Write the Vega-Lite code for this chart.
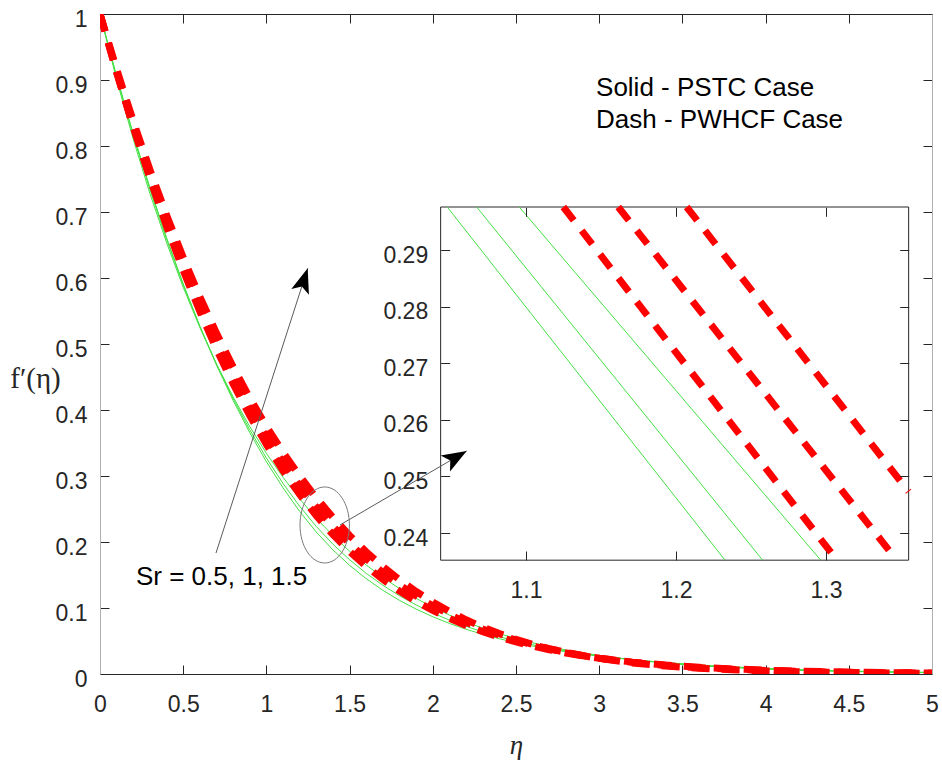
{
"$schema":"https://vega.github.io/schema/vega-lite/v6.json",
"width":832,"height":660,
"autosize":{"type":"none"},
"padding":{"left":100,"top":14,"right":10,"bottom":86},
"background":"white",
"config":{"view":{"stroke":null},"axis":{"grid":false,"labelFont":"Liberation Sans","labelFontSize":23,"labelColor":"#262626","tickColor":"#262626","domainColor":"#262626","labelFlush":false,"labelOverlap":false,"labelBound":false,"format":"~g"}},
"datasets":{
"main":[
{"case":"PSTC","Sr":0.5,"eta":0,"f":1},{"case":"PSTC","Sr":0.5,"eta":0.1,"f":0.9062},{"case":"PSTC","Sr":0.5,"eta":0.2,"f":0.8185},{"case":"PSTC","Sr":0.5,"eta":0.3,"f":0.7369},{"case":"PSTC","Sr":0.5,"eta":0.4,"f":0.6611},{"case":"PSTC","Sr":0.5,"eta":0.5,"f":0.5912},{"case":"PSTC","Sr":0.5,"eta":0.6,"f":0.527},{"case":"PSTC","Sr":0.5,"eta":0.7,"f":0.4681},{"case":"PSTC","Sr":0.5,"eta":0.8,"f":0.4145},{"case":"PSTC","Sr":0.5,"eta":0.9,"f":0.3657},{"case":"PSTC","Sr":0.5,"eta":1,"f":0.3217},{"case":"PSTC","Sr":0.5,"eta":1.1,"f":0.282},{"case":"PSTC","Sr":0.5,"eta":1.2,"f":0.2463},{"case":"PSTC","Sr":0.5,"eta":1.3,"f":0.215},{"case":"PSTC","Sr":0.5,"eta":1.4,"f":0.188},{"case":"PSTC","Sr":0.5,"eta":1.5,"f":0.1646},{"case":"PSTC","Sr":0.5,"eta":1.6,"f":0.1444},{"case":"PSTC","Sr":0.5,"eta":1.7,"f":0.1268},{"case":"PSTC","Sr":0.5,"eta":1.8,"f":0.1115},{"case":"PSTC","Sr":0.5,"eta":1.9,"f":0.0983},{"case":"PSTC","Sr":0.5,"eta":2,"f":0.0867},{"case":"PSTC","Sr":0.5,"eta":2.1,"f":0.0766},{"case":"PSTC","Sr":0.5,"eta":2.2,"f":0.0678},{"case":"PSTC","Sr":0.5,"eta":2.3,"f":0.0601},{"case":"PSTC","Sr":0.5,"eta":2.4,"f":0.0534},{"case":"PSTC","Sr":0.5,"eta":2.5,"f":0.0475},{"case":"PSTC","Sr":0.5,"eta":2.6,"f":0.0423},{"case":"PSTC","Sr":0.5,"eta":2.7,"f":0.0377},{"case":"PSTC","Sr":0.5,"eta":2.8,"f":0.0337},{"case":"PSTC","Sr":0.5,"eta":2.9,"f":0.0301},{"case":"PSTC","Sr":0.5,"eta":3,"f":0.027},{"case":"PSTC","Sr":0.5,"eta":3.2,"f":0.0217},{"case":"PSTC","Sr":0.5,"eta":3.4,"f":0.0173},{"case":"PSTC","Sr":0.5,"eta":3.6,"f":0.0137},{"case":"PSTC","Sr":0.5,"eta":3.8,"f":0.0108},{"case":"PSTC","Sr":0.5,"eta":4,"f":0.0085},{"case":"PSTC","Sr":0.5,"eta":4.2,"f":0.0067},{"case":"PSTC","Sr":0.5,"eta":4.4,"f":0.0052},{"case":"PSTC","Sr":0.5,"eta":4.6,"f":0.004},{"case":"PSTC","Sr":0.5,"eta":4.8,"f":0.0031},{"case":"PSTC","Sr":0.5,"eta":5,"f":0.0024},
{"case":"PSTC","Sr":1,"eta":0,"f":1},{"case":"PSTC","Sr":1,"eta":0.1,"f":0.9042},{"case":"PSTC","Sr":1,"eta":0.2,"f":0.8156},{"case":"PSTC","Sr":1,"eta":0.3,"f":0.7338},{"case":"PSTC","Sr":1,"eta":0.4,"f":0.6587},{"case":"PSTC","Sr":1,"eta":0.5,"f":0.5898},{"case":"PSTC","Sr":1,"eta":0.6,"f":0.5268},{"case":"PSTC","Sr":1,"eta":0.7,"f":0.4694},{"case":"PSTC","Sr":1,"eta":0.8,"f":0.4172},{"case":"PSTC","Sr":1,"eta":0.9,"f":0.37},{"case":"PSTC","Sr":1,"eta":1,"f":0.3272},{"case":"PSTC","Sr":1,"eta":1.1,"f":0.2887},{"case":"PSTC","Sr":1,"eta":1.2,"f":0.2541},{"case":"PSTC","Sr":1,"eta":1.3,"f":0.2235},{"case":"PSTC","Sr":1,"eta":1.4,"f":0.1966},{"case":"PSTC","Sr":1,"eta":1.5,"f":0.1731},{"case":"PSTC","Sr":1,"eta":1.6,"f":0.1525},{"case":"PSTC","Sr":1,"eta":1.7,"f":0.1344},{"case":"PSTC","Sr":1,"eta":1.8,"f":0.1186},{"case":"PSTC","Sr":1,"eta":1.9,"f":0.1046},{"case":"PSTC","Sr":1,"eta":2,"f":0.0924},{"case":"PSTC","Sr":1,"eta":2.1,"f":0.0816},{"case":"PSTC","Sr":1,"eta":2.2,"f":0.0722},{"case":"PSTC","Sr":1,"eta":2.3,"f":0.0638},{"case":"PSTC","Sr":1,"eta":2.4,"f":0.0565},{"case":"PSTC","Sr":1,"eta":2.5,"f":0.05},{"case":"PSTC","Sr":1,"eta":2.6,"f":0.0443},{"case":"PSTC","Sr":1,"eta":2.7,"f":0.0393},{"case":"PSTC","Sr":1,"eta":2.8,"f":0.0349},{"case":"PSTC","Sr":1,"eta":2.9,"f":0.031},{"case":"PSTC","Sr":1,"eta":3,"f":0.0275},{"case":"PSTC","Sr":1,"eta":3.2,"f":0.0217},{"case":"PSTC","Sr":1,"eta":3.4,"f":0.017},{"case":"PSTC","Sr":1,"eta":3.6,"f":0.0133},{"case":"PSTC","Sr":1,"eta":3.8,"f":0.0104},{"case":"PSTC","Sr":1,"eta":4,"f":0.0081},{"case":"PSTC","Sr":1,"eta":4.2,"f":0.0063},{"case":"PSTC","Sr":1,"eta":4.4,"f":0.0048},{"case":"PSTC","Sr":1,"eta":4.6,"f":0.0037},{"case":"PSTC","Sr":1,"eta":4.8,"f":0.0029},{"case":"PSTC","Sr":1,"eta":5,"f":0.0022},
{"case":"PSTC","Sr":1.5,"eta":0,"f":1},{"case":"PSTC","Sr":1.5,"eta":0.1,"f":0.9006},{"case":"PSTC","Sr":1.5,"eta":0.2,"f":0.8102},{"case":"PSTC","Sr":1.5,"eta":0.3,"f":0.728},{"case":"PSTC","Sr":1.5,"eta":0.4,"f":0.6536},{"case":"PSTC","Sr":1.5,"eta":0.5,"f":0.5861},{"case":"PSTC","Sr":1.5,"eta":0.6,"f":0.525},{"case":"PSTC","Sr":1.5,"eta":0.7,"f":0.4698},{"case":"PSTC","Sr":1.5,"eta":0.8,"f":0.4199},{"case":"PSTC","Sr":1.5,"eta":0.9,"f":0.3749},{"case":"PSTC","Sr":1.5,"eta":1,"f":0.3344},{"case":"PSTC","Sr":1.5,"eta":1.1,"f":0.298},{"case":"PSTC","Sr":1.5,"eta":1.2,"f":0.2653},{"case":"PSTC","Sr":1.5,"eta":1.3,"f":0.2359},{"case":"PSTC","Sr":1.5,"eta":1.4,"f":0.2096},{"case":"PSTC","Sr":1.5,"eta":1.5,"f":0.186},{"case":"PSTC","Sr":1.5,"eta":1.6,"f":0.165},{"case":"PSTC","Sr":1.5,"eta":1.7,"f":0.1462},{"case":"PSTC","Sr":1.5,"eta":1.8,"f":0.1294},{"case":"PSTC","Sr":1.5,"eta":1.9,"f":0.1145},{"case":"PSTC","Sr":1.5,"eta":2,"f":0.1011},{"case":"PSTC","Sr":1.5,"eta":2.1,"f":0.0893},{"case":"PSTC","Sr":1.5,"eta":2.2,"f":0.0788},{"case":"PSTC","Sr":1.5,"eta":2.3,"f":0.0694},{"case":"PSTC","Sr":1.5,"eta":2.4,"f":0.0611},{"case":"PSTC","Sr":1.5,"eta":2.5,"f":0.0538},{"case":"PSTC","Sr":1.5,"eta":2.6,"f":0.0473},{"case":"PSTC","Sr":1.5,"eta":2.7,"f":0.0415},{"case":"PSTC","Sr":1.5,"eta":2.8,"f":0.0364},{"case":"PSTC","Sr":1.5,"eta":2.9,"f":0.032},{"case":"PSTC","Sr":1.5,"eta":3,"f":0.028},{"case":"PSTC","Sr":1.5,"eta":3.2,"f":0.0214},{"case":"PSTC","Sr":1.5,"eta":3.4,"f":0.0164},{"case":"PSTC","Sr":1.5,"eta":3.6,"f":0.0126},{"case":"PSTC","Sr":1.5,"eta":3.8,"f":0.0096},{"case":"PSTC","Sr":1.5,"eta":4,"f":0.0074},{"case":"PSTC","Sr":1.5,"eta":4.2,"f":0.0056},{"case":"PSTC","Sr":1.5,"eta":4.4,"f":0.0043},{"case":"PSTC","Sr":1.5,"eta":4.6,"f":0.0033},{"case":"PSTC","Sr":1.5,"eta":4.8,"f":0.0025},{"case":"PSTC","Sr":1.5,"eta":5,"f":0.0019},
{"case":"PWHCF","Sr":0.5,"eta":0,"f":1},{"case":"PWHCF","Sr":0.5,"eta":0.1,"f":0.9115},{"case":"PWHCF","Sr":0.5,"eta":0.2,"f":0.8285},{"case":"PWHCF","Sr":0.5,"eta":0.3,"f":0.7508},{"case":"PWHCF","Sr":0.5,"eta":0.4,"f":0.6785},{"case":"PWHCF","Sr":0.5,"eta":0.5,"f":0.6114},{"case":"PWHCF","Sr":0.5,"eta":0.6,"f":0.5493},{"case":"PWHCF","Sr":0.5,"eta":0.7,"f":0.4921},{"case":"PWHCF","Sr":0.5,"eta":0.8,"f":0.4396},{"case":"PWHCF","Sr":0.5,"eta":0.9,"f":0.3916},{"case":"PWHCF","Sr":0.5,"eta":1,"f":0.3478},{"case":"PWHCF","Sr":0.5,"eta":1.1,"f":0.308},{"case":"PWHCF","Sr":0.5,"eta":1.2,"f":0.272},{"case":"PWHCF","Sr":0.5,"eta":1.3,"f":0.2397},{"case":"PWHCF","Sr":0.5,"eta":1.4,"f":0.2111},{"case":"PWHCF","Sr":0.5,"eta":1.5,"f":0.1856},{"case":"PWHCF","Sr":0.5,"eta":1.6,"f":0.1631},{"case":"PWHCF","Sr":0.5,"eta":1.7,"f":0.1432},{"case":"PWHCF","Sr":0.5,"eta":1.8,"f":0.1256},{"case":"PWHCF","Sr":0.5,"eta":1.9,"f":0.11},{"case":"PWHCF","Sr":0.5,"eta":2,"f":0.0963},{"case":"PWHCF","Sr":0.5,"eta":2.1,"f":0.0842},{"case":"PWHCF","Sr":0.5,"eta":2.2,"f":0.0735},{"case":"PWHCF","Sr":0.5,"eta":2.3,"f":0.0641},{"case":"PWHCF","Sr":0.5,"eta":2.4,"f":0.0559},{"case":"PWHCF","Sr":0.5,"eta":2.5,"f":0.0487},{"case":"PWHCF","Sr":0.5,"eta":2.6,"f":0.0423},{"case":"PWHCF","Sr":0.5,"eta":2.7,"f":0.0368},{"case":"PWHCF","Sr":0.5,"eta":2.8,"f":0.0319},{"case":"PWHCF","Sr":0.5,"eta":2.9,"f":0.0277},{"case":"PWHCF","Sr":0.5,"eta":3,"f":0.024},{"case":"PWHCF","Sr":0.5,"eta":3.2,"f":0.018},{"case":"PWHCF","Sr":0.5,"eta":3.4,"f":0.0135},{"case":"PWHCF","Sr":0.5,"eta":3.6,"f":0.0102},{"case":"PWHCF","Sr":0.5,"eta":3.8,"f":0.0077},{"case":"PWHCF","Sr":0.5,"eta":4,"f":0.0058},{"case":"PWHCF","Sr":0.5,"eta":4.2,"f":0.0044},{"case":"PWHCF","Sr":0.5,"eta":4.4,"f":0.0033},{"case":"PWHCF","Sr":0.5,"eta":4.6,"f":0.0025},{"case":"PWHCF","Sr":0.5,"eta":4.8,"f":0.0019},{"case":"PWHCF","Sr":0.5,"eta":5,"f":0.0015},
{"case":"PWHCF","Sr":1,"eta":0,"f":1},{"case":"PWHCF","Sr":1,"eta":0.1,"f":0.9118},{"case":"PWHCF","Sr":1,"eta":0.2,"f":0.8295},{"case":"PWHCF","Sr":1,"eta":0.3,"f":0.753},{"case":"PWHCF","Sr":1,"eta":0.4,"f":0.682},{"case":"PWHCF","Sr":1,"eta":0.5,"f":0.6163},{"case":"PWHCF","Sr":1,"eta":0.6,"f":0.5557},{"case":"PWHCF","Sr":1,"eta":0.7,"f":0.4999},{"case":"PWHCF","Sr":1,"eta":0.8,"f":0.4487},{"case":"PWHCF","Sr":1,"eta":0.9,"f":0.4019},{"case":"PWHCF","Sr":1,"eta":1,"f":0.3591},{"case":"PWHCF","Sr":1,"eta":1.1,"f":0.3202},{"case":"PWHCF","Sr":1,"eta":1.2,"f":0.2848},{"case":"PWHCF","Sr":1,"eta":1.3,"f":0.2528},{"case":"PWHCF","Sr":1,"eta":1.4,"f":0.2239},{"case":"PWHCF","Sr":1,"eta":1.5,"f":0.1979},{"case":"PWHCF","Sr":1,"eta":1.6,"f":0.1745},{"case":"PWHCF","Sr":1,"eta":1.7,"f":0.1536},{"case":"PWHCF","Sr":1,"eta":1.8,"f":0.1349},{"case":"PWHCF","Sr":1,"eta":1.9,"f":0.1182},{"case":"PWHCF","Sr":1,"eta":2,"f":0.1034},{"case":"PWHCF","Sr":1,"eta":2.1,"f":0.0902},{"case":"PWHCF","Sr":1,"eta":2.2,"f":0.0785},{"case":"PWHCF","Sr":1,"eta":2.3,"f":0.0682},{"case":"PWHCF","Sr":1,"eta":2.4,"f":0.0591},{"case":"PWHCF","Sr":1,"eta":2.5,"f":0.0512},{"case":"PWHCF","Sr":1,"eta":2.6,"f":0.0442},{"case":"PWHCF","Sr":1,"eta":2.7,"f":0.038},{"case":"PWHCF","Sr":1,"eta":2.8,"f":0.0327},{"case":"PWHCF","Sr":1,"eta":2.9,"f":0.028},{"case":"PWHCF","Sr":1,"eta":3,"f":0.024},{"case":"PWHCF","Sr":1,"eta":3.2,"f":0.0176},{"case":"PWHCF","Sr":1,"eta":3.4,"f":0.0129},{"case":"PWHCF","Sr":1,"eta":3.6,"f":0.0096},{"case":"PWHCF","Sr":1,"eta":3.8,"f":0.0071},{"case":"PWHCF","Sr":1,"eta":4,"f":0.0053},{"case":"PWHCF","Sr":1,"eta":4.2,"f":0.004},{"case":"PWHCF","Sr":1,"eta":4.4,"f":0.003},{"case":"PWHCF","Sr":1,"eta":4.6,"f":0.0022},{"case":"PWHCF","Sr":1,"eta":4.8,"f":0.0017},{"case":"PWHCF","Sr":1,"eta":5,"f":0.0013},
{"case":"PWHCF","Sr":1.5,"eta":0,"f":1},{"case":"PWHCF","Sr":1.5,"eta":0.1,"f":0.9164},{"case":"PWHCF","Sr":1.5,"eta":0.2,"f":0.8378},{"case":"PWHCF","Sr":1.5,"eta":0.3,"f":0.7642},{"case":"PWHCF","Sr":1.5,"eta":0.4,"f":0.6953},{"case":"PWHCF","Sr":1.5,"eta":0.5,"f":0.6312},{"case":"PWHCF","Sr":1.5,"eta":0.6,"f":0.5716},{"case":"PWHCF","Sr":1.5,"eta":0.7,"f":0.5164},{"case":"PWHCF","Sr":1.5,"eta":0.8,"f":0.4654},{"case":"PWHCF","Sr":1.5,"eta":0.9,"f":0.4185},{"case":"PWHCF","Sr":1.5,"eta":1,"f":0.3754},{"case":"PWHCF","Sr":1.5,"eta":1.1,"f":0.336},{"case":"PWHCF","Sr":1.5,"eta":1.2,"f":0.3},{"case":"PWHCF","Sr":1.5,"eta":1.3,"f":0.2671},{"case":"PWHCF","Sr":1.5,"eta":1.4,"f":0.2371},{"case":"PWHCF","Sr":1.5,"eta":1.5,"f":0.2099},{"case":"PWHCF","Sr":1.5,"eta":1.6,"f":0.1852},{"case":"PWHCF","Sr":1.5,"eta":1.7,"f":0.1629},{"case":"PWHCF","Sr":1.5,"eta":1.8,"f":0.1429},{"case":"PWHCF","Sr":1.5,"eta":1.9,"f":0.125},{"case":"PWHCF","Sr":1.5,"eta":2,"f":0.109},{"case":"PWHCF","Sr":1.5,"eta":2.1,"f":0.0948},{"case":"PWHCF","Sr":1.5,"eta":2.2,"f":0.0821},{"case":"PWHCF","Sr":1.5,"eta":2.3,"f":0.071},{"case":"PWHCF","Sr":1.5,"eta":2.4,"f":0.0612},{"case":"PWHCF","Sr":1.5,"eta":2.5,"f":0.0525},{"case":"PWHCF","Sr":1.5,"eta":2.6,"f":0.045},{"case":"PWHCF","Sr":1.5,"eta":2.7,"f":0.0384},{"case":"PWHCF","Sr":1.5,"eta":2.8,"f":0.0327},{"case":"PWHCF","Sr":1.5,"eta":2.9,"f":0.0278},{"case":"PWHCF","Sr":1.5,"eta":3,"f":0.0235},{"case":"PWHCF","Sr":1.5,"eta":3.2,"f":0.0168},{"case":"PWHCF","Sr":1.5,"eta":3.4,"f":0.0121},{"case":"PWHCF","Sr":1.5,"eta":3.6,"f":0.0088},{"case":"PWHCF","Sr":1.5,"eta":3.8,"f":0.0064},{"case":"PWHCF","Sr":1.5,"eta":4,"f":0.0047},{"case":"PWHCF","Sr":1.5,"eta":4.2,"f":0.0035},{"case":"PWHCF","Sr":1.5,"eta":4.4,"f":0.0026},{"case":"PWHCF","Sr":1.5,"eta":4.6,"f":0.002},{"case":"PWHCF","Sr":1.5,"eta":4.8,"f":0.0015},{"case":"PWHCF","Sr":1.5,"eta":5,"f":0.0011}
],
"inset":[
{"case":"PSTC","Sr":0.5,"eta":1.0475,"f":0.2976},{"case":"PSTC","Sr":0.5,"eta":1.2327,"f":0.2352},
{"case":"PSTC","Sr":1,"eta":1.0671,"f":0.2976},{"case":"PSTC","Sr":1,"eta":1.2578,"f":0.2352},
{"case":"PSTC","Sr":1.5,"eta":1.0955,"f":0.2976},{"case":"PSTC","Sr":1.5,"eta":1.2965,"f":0.2352},
{"case":"PWHCF","Sr":0.5,"eta":1.1249,"f":0.2976},{"case":"PWHCF","Sr":0.5,"eta":1.3073,"f":0.2352},
{"case":"PWHCF","Sr":1,"eta":1.1615,"f":0.2976},{"case":"PWHCF","Sr":1,"eta":1.3472,"f":0.2352},
{"case":"PWHCF","Sr":1.5,"eta":1.2071,"f":0.2976},{"case":"PWHCF","Sr":1.5,"eta":1.3551,"f":0.2473}
]
},
"layer":[
{
"layer":[
{"data":{"name":"main"},"transform":[{"filter":"datum.case === 'PSTC'"}],
"mark":{"type":"line","clip":true,"color":"#44e044","strokeWidth":1},
"encoding":{
"x":{"field":"eta","type":"quantitative","scale":{"domain":[0,5],"nice":false,"zero":false},
"axis":{"orient":"bottom","values":[0,0.5,1,1.5,2,2.5,3,3.5,4,4.5,5],"tickSize":-9,"labelPadding":28,"title":"η","titleFont":"Liberation Serif","titleFontStyle":"italic","titleFontSize":27,"titleFontWeight":"normal","titleColor":"#262626","titleX":416,"titleY":71,"titleAlign":"center","titleBaseline":"middle"}},
"y":{"field":"f","type":"quantitative","scale":{"domain":[0,1],"nice":false},
"axis":{"orient":"left","values":[0,0.1,0.2,0.3,0.4,0.5,0.6,0.7,0.8,0.9,1],"tickSize":-9,"labelPadding":22,"labelOffset":5,"domainColor":"#b0b0b0","title":"f′(η)","titleAngle":0,"titleX":-65,"titleY":364,"titleFont":"Liberation Serif","titleFontSize":29,"titleFontWeight":"normal","titleColor":"#262626","titleAlign":"center","titleBaseline":"middle"}},
"detail":{"field":"Sr","type":"nominal"}}},
{"data":{"name":"main"},"transform":[{"filter":"datum.case === 'PWHCF'"}],
"mark":{"type":"line","clip":true,"color":"#ff0000","strokeWidth":7,"strokeDash":[18,12]},
"encoding":{
"x":{"field":"eta","type":"quantitative","scale":{"domain":[0,5],"nice":false,"zero":false},
"axis":{"orient":"top","values":[0,0.5,1,1.5,2,2.5,3,3.5,4,4.5,5],"tickSize":-9,"labels":false,"title":null}},
"y":{"field":"f","type":"quantitative","scale":{"domain":[0,1],"nice":false},
"axis":{"orient":"right","values":[0,0.1,0.2,0.3,0.4,0.5,0.6,0.7,0.8,0.9,1],"tickSize":-9,"labels":false,"title":null,"domainColor":"#b0b0b0"}},
"detail":{"field":"Sr","type":"nominal"}}}
],
"resolve":{"axis":{"x":"independent","y":"independent"}}
},
{
"layer":[
{"data":{"values":[{}]},
"mark":{"type":"rect","fill":"white","stroke":"#262626","strokeWidth":1},
"encoding":{
"x":{"datum":1.0431,"type":"quantitative","scale":{"domain":[0.816,1.37067],"nice":false,"zero":false},
"axis":{"orient":"bottom","offset":-114,"values":[1.1,1.2,1.3],"tickSize":-9,"labelPadding":28,"domain":false,"title":null,"zindex":1}},
"x2":{"datum":1.3551},
"y":{"datum":0.2352,"type":"quantitative","scale":{"domain":[0.21509,0.3317],"nice":false,"zero":false},
"axis":{"orient":"left","offset":-340.7,"values":[0.24,0.25,0.26,0.27,0.28,0.29],"tickSize":-9,"labelPadding":22,"labelOffset":5,"domain":false,"title":null,"zindex":1}},
"y2":{"datum":0.2976}}},
{"data":{"name":"inset"},"transform":[{"filter":"datum.case === 'PSTC'"}],
"mark":{"type":"line","color":"#44e044","strokeWidth":1},
"encoding":{
"x":{"field":"eta","type":"quantitative","scale":{"domain":[0.816,1.37067],"nice":false,"zero":false},"axis":null},
"y":{"field":"f","type":"quantitative","scale":{"domain":[0.21509,0.3317],"nice":false,"zero":false},"axis":null},
"detail":{"field":"Sr","type":"nominal"}}},
{"data":{"name":"inset"},"transform":[{"filter":"datum.case === 'PWHCF'"}],
"mark":{"type":"line","color":"#ff0000","strokeWidth":7,"strokeDash":[17,13]},
"encoding":{
"x":{"field":"eta","type":"quantitative","scale":{"domain":[0.816,1.37067],"nice":false,"zero":false},
"axis":{"orient":"top","offset":-193.3,"values":[1.1,1.2,1.3],"tickSize":-9,"labels":false,"domain":false,"title":null,"zindex":1}},
"y":{"field":"f","type":"quantitative","scale":{"domain":[0.21509,0.3317],"nice":false,"zero":false},
"axis":{"orient":"right","offset":-23.3,"values":[0.24,0.25,0.26,0.27,0.28,0.29],"tickSize":-9,"labels":false,"domain":false,"title":null,"zindex":1}},
"detail":{"field":"Sr","type":"nominal"}}}
],
"resolve":{"axis":{"x":"independent","y":"independent"}}
},
{
"layer":[
{"data":{"values":[{}]},"mark":{"type":"rule","color":"#5a5a5a","strokeWidth":1},
"encoding":{"x":{"datum":0.6971,"type":"quantitative","scale":{"domain":[0,5],"nice":false,"zero":false},"axis":null},"y":{"datum":0.1833,"type":"quantitative","scale":{"domain":[0,1],"nice":false},"axis":null},"x2":{"datum":1.2482},"y2":{"datum":0.6147}}},
{"data":{"values":[{}]},"mark":{"type":"rule","color":"#5a5a5a","strokeWidth":1},
"encoding":{"x":{"datum":1.4423,"type":"quantitative","scale":{"domain":[0,5],"nice":false,"zero":false},"axis":null},"y":{"datum":0.2258,"type":"quantitative","scale":{"domain":[0,1],"nice":false},"axis":null},"x2":{"datum":2.2037},"y2":{"datum":0.3379}}},
{"data":{"values":[{}]},"mark":{"type":"point","shape":"M0,0L0.37,0.99L0,0.76L-0.37,0.99Z","size":2500,"filled":true,"color":"#000000","opacity":1,"angle":17.85},
"encoding":{"x":{"datum":1.2482,"type":"quantitative","scale":{"domain":[0,5],"nice":false,"zero":false},"axis":null},"y":{"datum":0.6147,"type":"quantitative","scale":{"domain":[0,1],"nice":false},"axis":null}}},
{"data":{"values":[{}]},"mark":{"type":"point","shape":"M0,0L0.37,0.99L0,0.76L-0.37,0.99Z","size":2500,"filled":true,"color":"#000000","opacity":1,"angle":59.7},
"encoding":{"x":{"datum":2.2037,"type":"quantitative","scale":{"domain":[0,5],"nice":false,"zero":false},"axis":null},"y":{"datum":0.3379,"type":"quantitative","scale":{"domain":[0,1],"nice":false},"axis":null}}},
{"data":{"values":[{}]},"mark":{"type":"point","shape":"M-0.65,0A0.65,1,0,1,0,0.65,0A0.65,1,0,1,0,-0.65,0Z","size":5776,"filled":false,"color":"#7a7a7a","strokeWidth":1,"opacity":1},
"encoding":{"x":{"datum":1.3504,"type":"quantitative","scale":{"domain":[0,5],"nice":false,"zero":false},"axis":null},"y":{"datum":0.2258,"type":"quantitative","scale":{"domain":[0,1],"nice":false},"axis":null}}},
{"data":{"values":[{"label":"Solid - PSTC Case","x":2.981,"y":0.8765},{"label":"Dash - PWHCF Case","x":2.981,"y":0.8273},{"label":"Sr = 0.5, 1, 1.5","x":0.2163,"y":0.1348}]},
"mark":{"type":"text","align":"left","baseline":"alphabetic","font":"Liberation Sans","fontSize":26,"color":"#000000"},
"encoding":{"x":{"field":"x","type":"quantitative","scale":{"domain":[0,5],"nice":false,"zero":false},"axis":null},"y":{"field":"y","type":"quantitative","scale":{"domain":[0,1],"nice":false},"axis":null},"text":{"field":"label"}}}
]
}
],
"resolve":{"scale":{"x":"independent","y":"independent"},"axis":{"x":"independent","y":"independent"}}
}
